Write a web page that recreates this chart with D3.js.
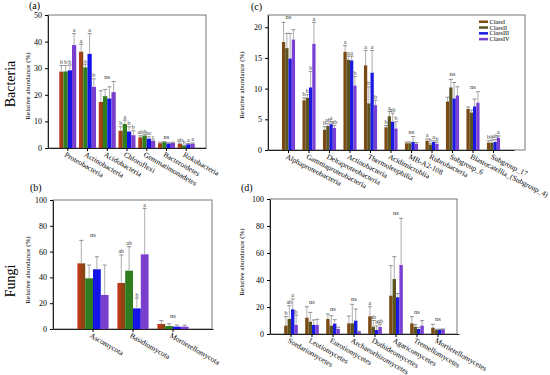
<!DOCTYPE html>
<html>
<head>
<meta charset="utf-8">
<title>Relative abundance</title>
<script src="https://d3js.org/d3.v7.min.js"></script>
<style>
  body { margin: 0; background: #fff; }
  svg text { font-family: "Liberation Serif", "DejaVu Serif", serif; }
</style>
</head>
<body>
<script>
// classes
var classes = ["ClassI", "ClassII", "ClassIII", "ClassIV"];

// (a) bacteria phyla
var aCats = ["Proteobacteria", "Actinobacteria", "Acidobacteria", "Chloroflexi", "Gemmatimonadetes", "Bacteroidetes", "Rokubacteria"];
var aMean = [[28.7, 28.8, 29.2, 38.7], [36.2, 30.3, 35.4, 23.0], [17.3, 19.5, 18.6, 21.0], [6.5, 9.0, 6.2, 4.8], [4.0, 4.7, 3.5, 2.6], [1.8, 2.2, 1.7, 1.9], [1.5, 0.9, 1.4, 1.6]];
var aErr  = [[31.0, 31.0, 31.2, 43.0], [39.0, 31.5, 43.0, 26.0], [21.5, 22.0, 23.0, 25.0], [8.0, 10.5, 8.0, 6.5], [4.6, 5.2, 4.2, 3.0], [2.2, 2.4, 2.0, 2.2], [1.8, 1.1, 1.7, 1.9]];
var aSig  = [["b", "b", "b", "a"], ["a", "a", "a", "b"], "ns", ["b", "a", "b", "b"], ["ab", "a", "bc", "c"], "ns", ["ab", "b", "a", "a"]];

// (b) fungi phyla
var bCats = ["Ascomycota", "Basidiomycota", "Mortierellomycota"];
var bMean = [[50.9, 39.3, 46.3, 26.4], [35.7, 45.2, 16.0, 57.9], [3.9, 2.3, 1.8, 1.8]];
var bErr  = [[68.7, 49.6, 56.0, 49.6], [57.4, 63.8, 24.0, 93.5], [6.5, 4.0, 3.0, 3.0]];
var bSig  = ["ns", ["ab", "ab", "b", "a"], "ns"];

// (c) bacteria classes
var cCats = ["Alphaproteobacteria", "Gammaproteobacteria", "Deltaproteobacteria", "Actinobacteria", "Thermoleophilia", "Acidimicrobiia", "MB-A2-108", "Rubrobacteria", "Subgroup_6", "Blastocatellia_(Subgroup_4)", "Subgroup_17"];
var cMean = [[17.6, 16.6, 14.9, 18.0], [8.1, 8.5, 10.2, 17.3], [3.3, 3.9, 4.2, 3.6], [16.0, 14.7, 14.6, 10.5], [13.8, 7.6, 12.6, 7.3], [3.7, 5.5, 4.6, 3.5], [1.1, 1.1, 1.3, 1.0], [1.5, 0.9, 1.3, 1.0], [7.9, 10.2, 8.4, 8.9], [6.7, 6.1, 7.1, 7.7], [1.2, 1.2, 1.3, 2.0]];
var cErr  = [[20.8, 19.0, 19.0, 19.6], [8.5, 9.0, 12.8, 20.8], [3.8, 4.3, 4.6, 4.0], [17.0, 15.3, 15.3, 12.0], [16.2, 10.3, 16.2, 8.1], [4.0, 6.3, 6.0, 4.6], [1.3, 1.3, 2.2, 1.2], [1.8, 1.1, 1.5, 1.3], [8.6, 11.5, 11.0, 10.3], [7.0, 6.5, 8.3, 9.5], [1.5, 1.6, 1.7, 2.3]];
var cSig  = ["ns", ["b", "b", "b", "a"], ["b", "ab", "a", "ab"], ["a", "a", "a", "b"], ["a", "b", "a", "b"], ["b", "a", "ab", "b"], "ns", ["a", "b", "a", "b"], "ns", "ns", ["b", "b", "ab", "a"]];

// (d) fungi classes
var dCats = ["Sordariomycetes", "Leotiomycetes", "Eurotiomycetes", "Archaeorhizomycetes", "Dothideomycetes", "Agaricomycetes", "Tremellomycetes", "Mortierellomycetes"];
var dMean = [[6.2, 11.1, 18.3, 6.7], [12.1, 9.1, 6.7, 6.7], [11.1, 6.2, 7.7, 3.7], [7.9, 7.9, 9.9, 1.7], [13.1, 5.4, 3.0, 5.2], [28.4, 40.7, 27.2, 51.1], [7.9, 5.4, 3.7, 6.2], [4.7, 3.0, 3.2, 3.5]];
var dErr  = [[12.8, 21.0, 26.0, 14.0], [20.2, 16.0, 10.4, 10.9], [14.8, 13.6, 10.6, 5.0], [13.3, 22.0, 18.5, 2.0], [20.2, 10.0, 6.0, 7.4], [50.6, 57.3, 30.0, 85.7], [12.8, 7.0, 5.0, 9.9], [7.2, 3.5, 3.6, 3.7]];
var dSig  = [["b", "ab", "a", "b"], "ns", "ns", "ns", ["a", "ab", "b", "ab"], "ns", "ns", "ns"];

var colsAB = ["url(#gradI)", "#2f7d1f", "#1414e6", "#7b3fce"];
var colsCD = ["#7b4a14", "#5c5420", "#1a1ae0", "#7a40d4"];
var serif = "'Liberation Serif', 'DejaVu Serif', serif";

var svg = d3.select("body").append("svg")
  .attr("width", 550).attr("height", 375);

var defs = svg.append("defs");
var g1 = defs.append("linearGradient").attr("id", "gradI")
  .attr("x1", "0%").attr("x2", "100%").attr("y1", "0%").attr("y2", "0%");
g1.append("stop").attr("offset", "0%").attr("stop-color", "#c8361a");
g1.append("stop").attr("offset", "100%").attr("stop-color", "#7a4a12");

function panel(o) {
  var g = svg.append("g");
  var x = d3.scaleBand().domain(o.cats).range(o.xr).paddingInner(0).paddingOuter(0.5);
  var y = d3.scaleLinear().domain([0, o.ymax]).range(o.yr);
  var inner = d3.scaleBand().domain(classes).range([0, x.step() * o.frac]);
  var off = -x.step() * o.frac / 2 + x.bandwidth() / 2;

  // frame
  g.append("rect")
    .attr("x", o.xr[0]).attr("y", o.yr[1])
    .attr("width", o.right - o.xr[0]).attr("height", o.yr[0] - o.yr[1])
    .attr("fill", "none").attr("stroke", "#777").attr("stroke-width", 1);

  // bars
  o.cats.forEach(function(c, i) {
    var gx = x(c) + off;
    classes.forEach(function(k, j) {
      var bx = gx + inner(k);
      var v = o.mean[i][j], e = o.err[i][j];
      g.append("rect")
        .attr("x", bx).attr("y", y(v))
        .attr("width", inner.bandwidth()).attr("height", y(0) - y(v))
        .attr("fill", o.cols[j]);
      var cx = bx + inner.bandwidth() / 2;
      g.append("line").attr("x1", cx).attr("x2", cx).attr("y1", y(v)).attr("y2", y(e))
        .attr("stroke", "#999").attr("stroke-width", 0.8);
      g.append("line").attr("x1", cx - 2).attr("x2", cx + 2).attr("y1", y(e)).attr("y2", y(e))
        .attr("stroke", "#777").attr("stroke-width", 0.8);
      if (Array.isArray(o.sig[i])) {
        g.append("text").attr("x", cx).attr("y", y(e) - 1.5)
          .attr("text-anchor", "middle").attr("font-size", 6).attr("fill", "#333")
          .text(o.sig[i][j]);
      }
    });
    if (!Array.isArray(o.sig[i])) {
      g.append("text").attr("x", x(c) + x.bandwidth() / 2).attr("y", y(d3.max(o.err[i])) - 3)
        .attr("text-anchor", "middle").attr("font-size", 6.5).attr("fill", "#333")
        .text(o.sig[i]);
    }
  });

  // axes
  var ya = g.append("g").attr("transform", "translate(" + o.xr[0] + ",0)")
    .call(d3.axisLeft(y).tickValues(o.ticks).tickSize(3).tickSizeOuter(0));
  ya.attr("font-family", null);
  ya.selectAll("text").attr("font-size", 8).style("font-family", serif);
  ya.select(".domain").attr("stroke", "#222");

  var xa = g.append("g").attr("transform", "translate(0," + o.yr[0] + ")")
    .call(d3.axisBottom(x).tickSize(3).tickSizeOuter(0));
  xa.attr("font-family", null);
  xa.select(".domain").attr("stroke", "#222");
  xa.selectAll("text")
    .attr("font-size", 7.5).style("font-family", serif)
    .attr("text-anchor", "start")
    .attr("transform", "rotate(" + o.rot + ")")
    .attr("dx", "0.1em").attr("dy", "0.9em").attr("y", 2);

  // titles
  g.append("text").attr("transform", "translate(" + o.ytx + "," + o.yty + ") rotate(-90)")
    .attr("text-anchor", "middle").attr("font-size", 7).text("Relative abundance (%)");
  g.append("text").attr("x", o.lx).attr("y", o.ly).attr("font-size", 10).text(o.label);
  return g;
}

panel({cats: aCats, mean: aMean, err: aErr, sig: aSig, cols: colsAB,
  xr: [48, 206], right: 206, yr: [148, 15], ymax: 50, ticks: [0, 10, 20, 30, 40, 50],
  frac: 0.86, rot: 30, ytx: 30, yty: 86, lx: 29, ly: 9, label: "(a)"});

panel({cats: bCats, mean: bMean, err: bErr, sig: bSig, cols: colsAB,
  xr: [53, 213], right: 212, yr: [329, 200], ymax: 100, ticks: [0, 20, 40, 60, 80, 100],
  frac: 0.78, rot: 30, ytx: 30, yty: 270, lx: 30, ly: 191, label: "(b)"});

panel({cats: cCats, mean: cMean, err: cErr, sig: cSig, cols: colsCD,
  xr: [268, 514], right: 525, yr: [150, 15], ymax: 22, ticks: [0, 5, 10, 15, 20],
  frac: 0.64, rot: 27, ytx: 244, yty: 85, lx: 251, ly: 10, label: "(c)"});

panel({cats: dCats, mean: dMean, err: dErr, sig: dSig, cols: colsCD,
  xr: [270, 459], right: 457, yr: [334, 199], ymax: 100, ticks: [0, 20, 40, 60, 80, 100],
  frac: 0.65, rot: 30, ytx: 244, yty: 262, lx: 241, ly: 191, label: "(d)"});

// side labels
svg.append("text").attr("transform", "translate(15,84) rotate(-90)")
  .attr("text-anchor", "middle").attr("font-size", 14).text("Bacteria");
svg.append("text").attr("transform", "translate(15,281) rotate(-90)")
  .attr("text-anchor", "middle").attr("font-size", 14).text("Fungi");

// legend in (c)
var leg = svg.append("g").attr("transform", "translate(479,22)");
classes.forEach(function(k, j) {
  leg.append("rect").attr("x", 0).attr("y", j * 5.8 - 1.5).attr("width", 9).attr("height", 2.5)
    .attr("fill", colsCD[j]);
  leg.append("text").attr("x", 10.5).attr("y", j * 5.8 + 1.8).attr("font-size", 6.2).text(k);
});
</script>
</body>
</html>
